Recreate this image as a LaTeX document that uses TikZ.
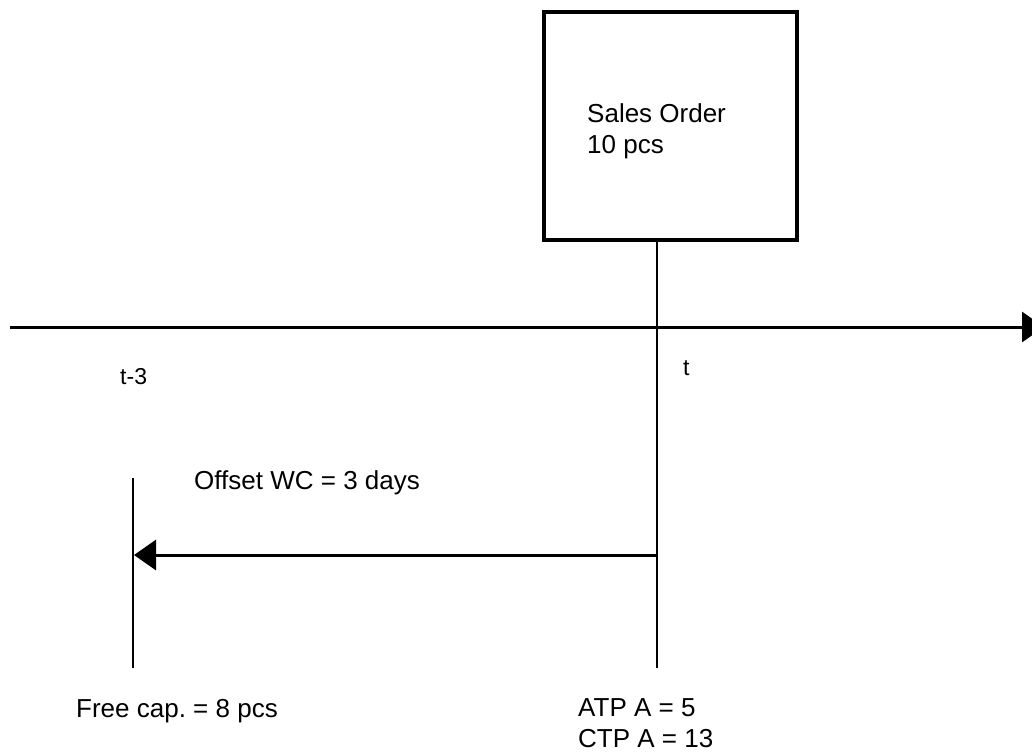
\documentclass[tikz,border=0pt]{standalone}
\usepackage{fontspec}
\setmainfont{Liberation Sans}
\usetikzlibrary{arrows.meta}
\frenchspacing

\tikzset{
  lbl/.style={anchor=base west, inner sep=0pt, font=\fontsize{26}{31}\selectfont},
  orderbox/.style={draw, line width=3.5pt, minimum width=253pt, minimum height=228pt, inner sep=0pt},
  tip/.style={-{Triangle[length=22pt, width=30pt]}}
}

\begin{document}
\begin{tikzpicture}[x=1pt, y=-1pt]
\useasboundingbox (0,0) rectangle (1032,753);

\node[orderbox] (order) at (670.5,126) {};
% base anchor sits on the last line
\node[lbl, align=left] (ordertxt) at (587,153) {Sales Order\\10 pcs};

\coordinate (axstart) at (10,327);
\coordinate (axend) at (1044,327);
\coordinate (tbot) at (657,668);
\coordinate (lefttop) at (133,478);
\coordinate (leftbot) at (133,668);
\coordinate (arrstart) at (657,555);
\coordinate (arrend) at (134,555);

\draw [tip, line width=3pt] (axstart) -- (axend);
\draw [line width=2pt] (order.south -| tbot) -- (tbot);
\draw [line width=2.5pt] (lefttop) -- (leftbot);
\draw [tip, line width=3pt] (arrstart) -- (arrend);

\node[lbl, font=\fontsize{23}{28}\selectfont] (tminus) at (120,384) {t-3};
\node[lbl, font=\fontsize{23}{28}\selectfont] (tnow) at (683,375) {t};
\node[lbl] (offset) at (194,489) {Offset WC = 3 days};
\node[lbl] (freecap) at (76,717) {Free cap. = 8 pcs};
\node[lbl, align=left] (atp) at (578,747) {ATP A = 5\\CTP A = 13};
\end{tikzpicture}
\end{document}
